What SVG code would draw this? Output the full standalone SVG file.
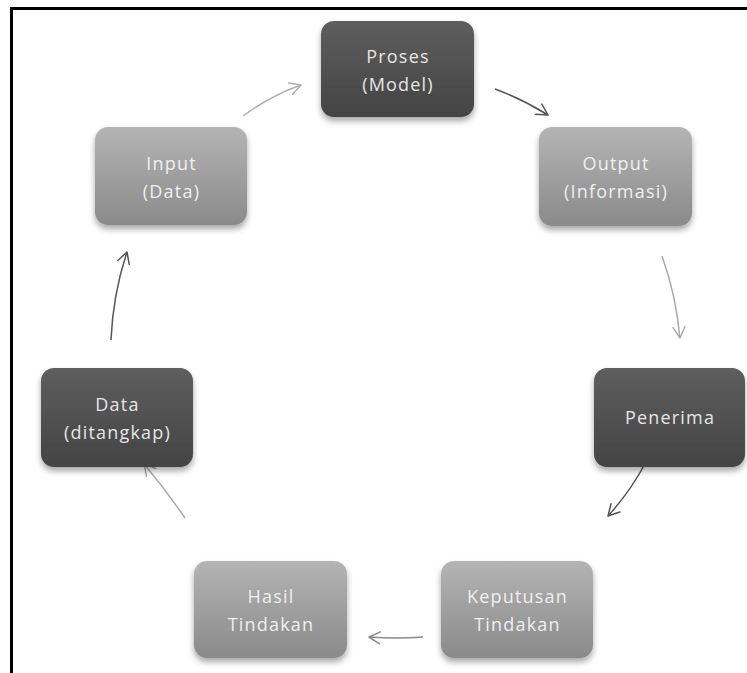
<svg xmlns="http://www.w3.org/2000/svg" width="747" height="673" viewBox="0 0 747 673">
<defs>
<linearGradient id="gDark" x1="0" y1="0" x2="0" y2="1">
<stop offset="0" stop-color="#5e5e5e"/>
<stop offset="1" stop-color="#444444"/>
</linearGradient>
<linearGradient id="gLight" x1="0" y1="0" x2="0" y2="1">
<stop offset="0" stop-color="#b4b4b4"/>
<stop offset="1" stop-color="#8a8a8a"/>
</linearGradient>
<filter id="sh" x="-20%" y="-20%" width="140%" height="150%">
<feDropShadow dx="0" dy="4" stdDeviation="3" flood-color="#000" flood-opacity="0.35"/>
</filter>
<marker id="ah" viewBox="0 0 14 14" refX="12" refY="7" markerWidth="14" markerHeight="14" markerUnits="userSpaceOnUse" orient="auto">
<path d="M1,1 L12,7 L1,13" fill="none" stroke="context-stroke" stroke-width="1.5" stroke-linecap="round" stroke-linejoin="round"/>
</marker>
</defs>
<style>
.dark{fill:url(#gDark);filter:url(#sh)}
.light{fill:url(#gLight);filter:url(#sh)}
.t{font-family:"Open Sans","Noto Sans",sans-serif;font-size:18px;letter-spacing:1.2px;text-anchor:middle}
.td{fill:#e6e6e6}
.tl{fill:#efefef}
.c{fill:none;stroke-width:1.5;marker-end:url(#ah)}
</style>
<rect width="747" height="673" fill="#ffffff"/>
<g id="frame">
<rect x="10" y="7" width="737" height="3" fill="#000"/>
<rect x="10" y="7" width="3" height="666" fill="#000"/>
</g>
<g id="connectors">
<path class="c" stroke="#b0b0b0" d="M243,116 Q270,96 301,85"/>
<path class="c" stroke="#555555" d="M495,89 Q522,99 548,115"/>
<path class="c" stroke="#aaaaaa" d="M662,256 Q676,295 680,338"/>
<path class="c" stroke="#555555" d="M646,462 Q630,492 608,516"/>
<path class="c" stroke="#8a8a8a" d="M423,637 Q396,639 369,637"/>
<path class="c" stroke="#aaaaaa" d="M185,518 Q166,490 144,464"/>
<path class="c" stroke="#555555" d="M111,340 Q113,294 127,252"/>
</g>
<g id="proses">
<rect class="dark" x="321" y="21" width="153" height="96" rx="13"/>
<text class="t td" x="398" y="63">Proses</text>
<text class="t td" x="398" y="91">(Model)</text>
</g>
<g id="output">
<rect class="light" x="539" y="127" width="153" height="99" rx="13"/>
<text class="t tl" x="616" y="170">Output</text>
<text class="t tl" x="616" y="198">(Informasi)</text>
</g>
<g id="penerima">
<rect class="dark" x="594" y="368" width="151" height="99" rx="13"/>
<text class="t td" x="670" y="424">Penerima</text>
</g>
<g id="keputusan">
<rect class="light" x="441" y="561" width="152" height="97" rx="13"/>
<text class="t tl" x="517.5" y="603">Keputusan</text>
<text class="t tl" x="517.5" y="631">Tindakan</text>
</g>
<g id="hasil">
<rect class="light" x="194" y="561" width="153" height="97" rx="13"/>
<text class="t tl" x="271" y="603">Hasil</text>
<text class="t tl" x="271" y="631">Tindakan</text>
</g>
<g id="data">
<rect class="dark" x="41" y="368" width="152" height="99" rx="13"/>
<text class="t td" x="117.5" y="411">Data</text>
<text class="t td" x="117.5" y="439">(ditangkap)</text>
</g>
<g id="input">
<rect class="light" x="95" y="127" width="152" height="98" rx="13"/>
<text class="t tl" x="171.5" y="170">Input</text>
<text class="t tl" x="171.5" y="198">(Data)</text>
</g>
</svg>
